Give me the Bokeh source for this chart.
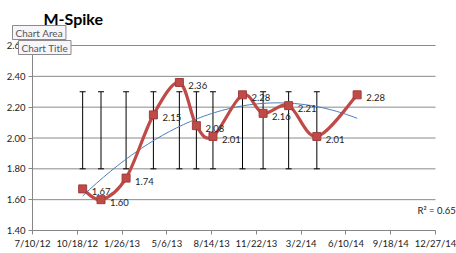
import numpy as np
import pandas as pd
from bokeh.plotting import figure
from bokeh.models import Range1d, FixedTicker, Label, ColumnDataSource, LinearAxis
from bokeh.core.properties import value
from bokeh.embed import file_html
from bokeh.resources import INLINE

# ---- data ----
dates = ["2012-10-30", "2012-12-10", "2013-02-04", "2013-04-06", "2013-06-03", "2013-07-11",
         "2013-08-17", "2013-10-22", "2013-12-07", "2014-02-02", "2014-04-06", "2014-07-05"]
values = [1.67, 1.60, 1.74, 2.15, 2.36, 2.08, 2.01, 2.28, 2.16, 2.21, 2.01, 2.28]
err_low = [1.80] * 11
err_high = [2.30] * 11
x_tick_labels = ["7/10/12", "10/18/12", "1/26/13", "5/6/13", "8/14/13",
                 "11/22/13", "3/2/14", "6/10/14", "9/18/14", "12/27/14"]
y_ticks = [1.40, 1.60, 1.80, 2.00, 2.20, 2.40, 2.60]
origin = "2012-07-10"
title_text = "M-Spike"
r2_text = "R\u00b2 = 0.65"

# ---- derived ----
x0 = pd.Timestamp(origin)
xd = np.array([(pd.Timestamp(d) - x0).days for d in dates], dtype=float)
yv = np.array(values)
tick_days = [(pd.to_datetime(t, format="%m/%d/%y") - x0).days for t in x_tick_labels]

# ---- layout: the frame covers the whole canvas, plot area = [32..435] x [45..230] px ----
W, H = 456, 253
PL, PR, PT, PB = 32, 435, 45, 230
xs, xe = tick_days[0], tick_days[-1]
ys, ye = y_ticks[0], y_ticks[-1]
kx = (PR - PL) / (xe - xs)
ky = (PB - PT) / (ye - ys)
x_range = Range1d(xs - PL / kx, xe + (W - PR) / kx)
y_range = Range1d(ys - (H - PB) / ky, ye + PT / ky)

FONT = "Lato"
p = figure(width=W, height=H, output_backend="svg", toolbar_location=None,
           x_range=x_range, y_range=y_range, x_axis_type=None, y_axis_type=None,
           min_border=0)
p.outline_line_color = None
p.background_fill_color = "white"
p.border_fill_color = "white"
p.xgrid.grid_line_color = None
p.ygrid.grid_line_color = None

# gridlines (limited to the plot area)
p.segment(x0=[xs] * len(y_ticks), y0=y_ticks, x1=[xe] * len(y_ticks), y1=y_ticks,
          line_color="#8a8a8a", line_width=1)

xaxis = LinearAxis(fixed_location=ys, bounds=(xs, xe))
yaxis = LinearAxis(fixed_location=xs, bounds=(ys, ye))
xaxis.ticker = FixedTicker(ticks=tick_days)
xaxis.major_label_overrides = {t: l for t, l in zip(tick_days, x_tick_labels)}
yaxis.ticker = FixedTicker(ticks=y_ticks)
yaxis.major_label_overrides = {t: f"{t:.2f}" for t in y_ticks}
for ax in (xaxis, yaxis):
    ax.axis_line_color = "#868686"
    ax.major_tick_line_color = "#868686"
    ax.major_tick_out = 4
    ax.major_tick_in = 0
    ax.minor_tick_line_color = None
    ax.major_label_text_font = FONT
    ax.major_label_text_font_size = "9.5px"
    ax.major_label_text_color = "#222222"
    ax.major_label_standoff = 3
p.add_layout(xaxis, "below")
p.add_layout(yaxis, "left")

# error bars
n_err = len(err_low)
ex = xd[:n_err]
p.segment(ex, err_low, ex, err_high, line_color="black", line_width=1)
p.scatter(ex, err_low, marker="dash", size=6, line_color="black", line_width=1)
p.scatter(ex, err_high, marker="dash", size=6, line_color="black", line_width=1)

# polynomial (order 2) trendline
coef = np.polyfit(xd, yv, 2)
tx = np.linspace(xd[0], xd[-1], 80)
p.line(tx, np.polyval(coef, tx), line_color="#4A7EBB", line_width=1)

# smoothed line (cubic bezier segments, Catmull-Rom control points)
P = np.column_stack([xd, yv])
Pext = np.vstack([P[0], P, P[-1]])
s0, s1, c0, c1 = [], [], [], []
for i in range(len(P) - 1):
    p0, p1, p2, p3 = Pext[i], Pext[i + 1], Pext[i + 2], Pext[i + 3]
    c0.append(p1 + (p2 - p0) / 6.0)
    c1.append(p2 - (p3 - p1) / 6.0)
    s0.append(p1)
    s1.append(p2)
s0, s1, c0, c1 = map(np.array, (s0, s1, c0, c1))
p.bezier(x0=s0[:, 0], y0=s0[:, 1], x1=s1[:, 0], y1=s1[:, 1],
         cx0=c0[:, 0], cy0=c0[:, 1], cx1=c1[:, 0], cy1=c1[:, 1],
         line_color="#BE4B48", line_width=3.2)

src = ColumnDataSource(dict(x=xd, y=yv, lab=[f"{v:.2f}" for v in values]))
p.scatter("x", "y", source=src, marker="square", size=8, fill_color="#BE4B48", line_color="#A33E3B")
p.text("x", "y", text="lab", source=src, x_offset=9, y_offset=3,
       text_font=value(FONT), text_font_size="9.5px", text_color="#222222",
       text_baseline="middle", text_align="left")

# title and annotations (screen units measured from canvas bottom-left)
p.add_layout(Label(x=43, y=H - 18, x_units="screen", y_units="screen", text=title_text,
                   text_font=FONT, text_font_style="bold", text_font_size="16px",
                   text_color="black", text_baseline="alphabetic"))
p.add_layout(Label(x=417, y=H - 210, x_units="screen", y_units="screen", text=r2_text,
                   text_font=FONT, text_font_size="9.5px", text_color="#222222",
                   text_baseline="alphabetic"))
for tx_, ty_, txt in [(12, 32, "Chart Area"), (18, 47, "Chart Title")]:
    p.add_layout(Label(x=tx_, y=H - ty_, x_units="screen", y_units="screen", text=txt,
                       text_font=FONT, text_font_size="10px", text_color="#555555",
                       background_fill_color="#f6f6fa", border_line_color="#8a8a8a",
                       padding=(3, 1), text_baseline="alphabetic"))

open("out.html", "w").write(file_html(p, INLINE))
